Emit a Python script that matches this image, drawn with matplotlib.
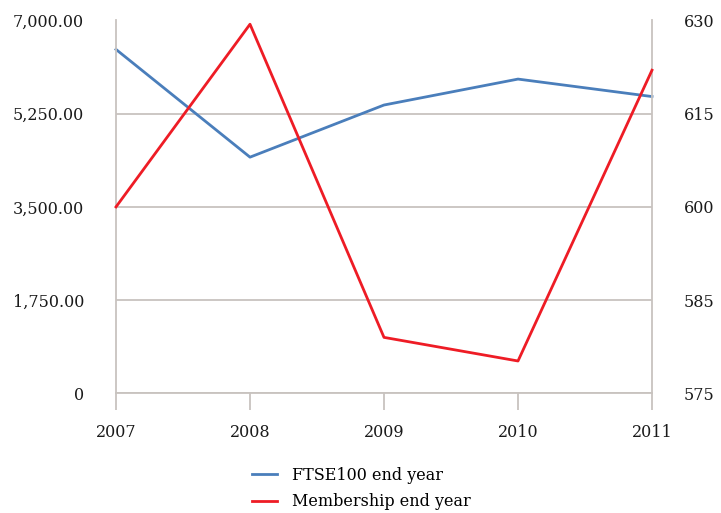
import matplotlib
matplotlib.use("Agg")
import matplotlib.pyplot as plt
from matplotlib.ticker import FixedLocator, FixedFormatter

years = ["2007", "2008", "2009", "2010", "2011"]
ftse = [6457, 4434, 5413, 5900, 5572]
membership = [600, 629.4, 579.0, 575.2, 622.0]

left_ticks = [0, 1750, 3500, 5250, 7000]
left_labels = ["0", "1,750.00", "3,500.00", "5,250.00", "7,000.00"]
right_ticks = [570, 585, 600, 615, 630]
right_labels = ["575", "585", "600", "615", "630"]

plt.rcParams['font.family'] = ['DejaVu Serif']
grid_col = "#c8c3bf"
blue = "#4a7ebb"
red = "#ee1c25"
txt = "#1a1a1a"
fs = 11.5

fig = plt.figure(figsize=(7.21, 5.13), dpi=100)
ax = fig.add_axes([116/721, 1-393.3/513, (652-116)/721, (393.3-20.5)/513])
x = list(range(len(years)))

ax.set_xlim(0, len(years)-1)
ax.set_ylim(0, 7000)
ax.yaxis.set_major_locator(FixedLocator(left_ticks))
ax.yaxis.set_major_formatter(FixedFormatter(left_labels))
ax.grid(axis='y', color=grid_col, linewidth=1.3)
ax.set_axisbelow(True)
ax.set_xticks(x)
ax.set_xticklabels(years)
ax.spines['top'].set_visible(False)
for s in ['left', 'right', 'bottom']:
    ax.spines[s].set_color(grid_col)
    ax.spines[s].set_linewidth(1.3)
ax.tick_params(axis='x', length=12, width=1.3, color=grid_col, pad=10, labelsize=fs, labelcolor=txt)
ax.tick_params(axis='y', length=0, pad=23, labelsize=fs, labelcolor=txt)

l1, = ax.plot(x, ftse, color=blue, linewidth=2.0, label="FTSE100 end year", clip_on=False)

ax2 = ax.twinx()
ax2.set_ylim(570, 630)
ax2.yaxis.set_major_locator(FixedLocator(right_ticks))
ax2.yaxis.set_major_formatter(FixedFormatter(right_labels))
ax2.tick_params(axis='y', length=0, pad=23, labelsize=fs, labelcolor=txt)
for s in ['top', 'left', 'right', 'bottom']:
    ax2.spines[s].set_visible(False)
l2, = ax2.plot(x, membership, color=red, linewidth=2.0, label="Membership end year", clip_on=False)

fig.legend(handles=[l1, l2], loc='upper left', bbox_to_anchor=(247/721, 1-462/513),
           frameon=False, fontsize=fs, handlelength=1.6, labelspacing=0.6,
           handletextpad=0.9, borderaxespad=0, borderpad=0.3)

fig.savefig("out.png", dpi=100)
